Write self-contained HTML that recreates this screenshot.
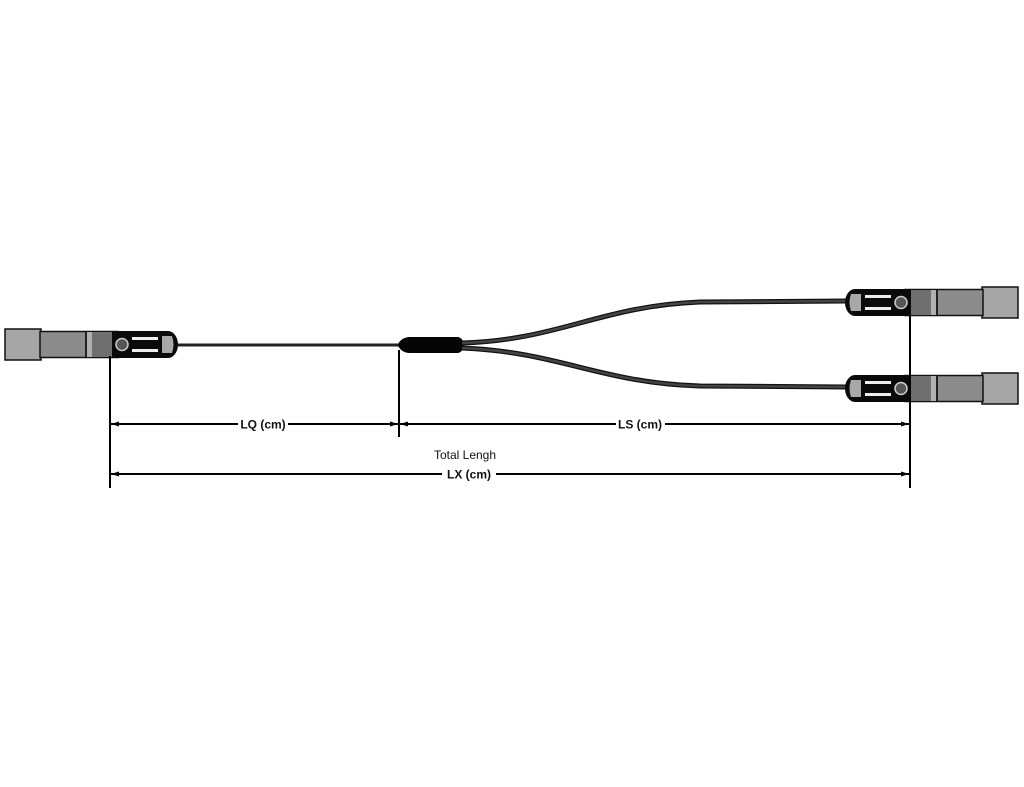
<!DOCTYPE html>
<html><head><meta charset="utf-8"><style>
html,body{margin:0;padding:0;background:#fff;}
svg{display:block;}
text{font-family:"Liberation Sans",Arial,sans-serif;fill:#111;}
</style></head><body>
<svg width="1024" height="787" viewBox="0 0 1024 787" xmlns="http://www.w3.org/2000/svg">
<defs>
<g id="conn">
  <!-- local: x 0..173, y 0..27, head at left -->
  <rect x="137" y="-2" width="36" height="31" fill="#a6a6a6" stroke="#111" stroke-width="1.5"/>
  <rect x="60" y="0.5" width="78" height="26" fill="#8c8c8c" stroke="#111" stroke-width="1.5"/>
  <rect x="66" y="1" width="20" height="25" fill="#6f6f6f"/>
  <rect x="86" y="1" width="5" height="25" fill="#b0b0b0"/>
  <rect x="91" y="1" width="2" height="25" fill="#222"/>
  <path d="M10,0 H66 V27 H10 A10,13.5 0 0 1 10,0 Z" fill="#0a0a0a"/>
  <path d="M6,5 H16 V22 H6 Q3,13.5 6,5 Z" fill="#a8a8a8"/>
  <rect x="20" y="6" width="26" height="3" fill="#eee"/>
  <rect x="20" y="18" width="26" height="3" fill="#eee"/>
  <circle cx="56" cy="13.5" r="6" fill="#555" stroke="#ccc" stroke-width="1.5"/>
</g>
</defs>
<!-- left cable -->
<line x1="178" y1="345" x2="400" y2="345" stroke="#222" stroke-width="3"/>
<!-- splitter -->
<path d="M398,344 Q402,337 410,337 H458 Q463,338 464,345 Q463,352 458,353 H410 Q402,353 398,346 Z" fill="#050505"/>
<!-- branches -->
<path d="M462,343 C560,340 600,306 700,302 L847,301" fill="none" stroke="#111" stroke-width="5"/>
<path d="M462,343 C560,340 600,306 700,302 L847,301" fill="none" stroke="#444" stroke-width="2.5"/>
<path d="M462,348 C560,352 600,383 700,386 L847,387" fill="none" stroke="#111" stroke-width="5"/>
<path d="M462,348 C560,352 600,383 700,386 L847,387" fill="none" stroke="#444" stroke-width="2.5"/>
<!-- connectors -->
<use href="#conn" transform="translate(845,289)"/>
<use href="#conn" transform="translate(845,375)"/>
<use href="#conn" transform="translate(178,331) scale(-1,1)"/>
<!-- dimension verticals -->
<line x1="110" y1="356" x2="110" y2="488" stroke="#000" stroke-width="2"/>
<line x1="399" y1="350" x2="399" y2="437" stroke="#000" stroke-width="2"/>
<line x1="910" y1="316" x2="910" y2="488" stroke="#000" stroke-width="2"/>
<!-- LQ -->
<line x1="111" y1="424" x2="238" y2="424" stroke="#000" stroke-width="2"/>
<line x1="288" y1="424" x2="398" y2="424" stroke="#000" stroke-width="2"/>
<path d="M111,424 l8,-2.5 v5 z M398,424 l-8,-2.5 v5 z" fill="#000"/>
<text x="263" y="428.5" font-size="12" font-weight="bold" text-anchor="middle">LQ (cm)</text>
<!-- LS -->
<line x1="400" y1="424" x2="616" y2="424" stroke="#000" stroke-width="2"/>
<line x1="665" y1="424" x2="909" y2="424" stroke="#000" stroke-width="2"/>
<path d="M400,424 l8,-2.5 v5 z M909,424 l-8,-2.5 v5 z" fill="#000"/>
<text x="640" y="428.5" font-size="12" font-weight="bold" text-anchor="middle">LS (cm)</text>
<!-- LX -->
<text x="465" y="459" font-size="12" text-anchor="middle">Total Lengh</text>
<line x1="111" y1="474" x2="442" y2="474" stroke="#000" stroke-width="2"/>
<line x1="496" y1="474" x2="909" y2="474" stroke="#000" stroke-width="2"/>
<path d="M111,474 l8,-2.5 v5 z M909,474 l-8,-2.5 v5 z" fill="#000"/>
<text x="469" y="478.5" font-size="12" font-weight="bold" text-anchor="middle">LX (cm)</text>
</svg>
</body></html>
